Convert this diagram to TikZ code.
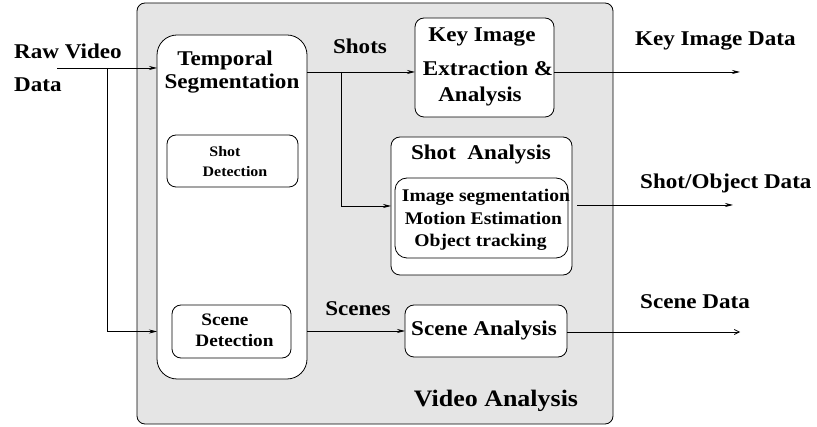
\documentclass[tikz,border=0pt]{standalone}
\usepackage{fontspec}
\setmainfont{Liberation Serif}[FakeStretch=1.1]
\usetikzlibrary{arrows.meta,calc}
\definecolor{panelgray}{RGB}{229,229,229}
\tikzset{
  box/.style={draw=black, line width=0.8pt, fill=white, inner sep=0pt, outer sep=0pt},
  lbl/.style={inner sep=0pt, text height=0.66em, text depth=0pt, font=\fontsize{21}{25}\selectfont\bfseries},
  lblsmall/.style={lbl, font=\fontsize{14.5}{17}\selectfont\bfseries},
  lblmid/.style={lbl, font=\fontsize{17.5}{20}\selectfont\bfseries},
  lblinner/.style={lbl, font=\fontsize{17.8}{20}\selectfont\bfseries},
  lblbig/.style={lbl, font=\fontsize{23.6}{27}\selectfont\bfseries},
  arr/.style={line width=0.7pt, -{Stealth[length=8pt,width=4pt]}},
  openarr/.style={line width=0.7pt, -{Straight Barb[length=5pt,width=5pt]}},
  wire/.style={line width=0.7pt}
}
\begin{document}
\begin{tikzpicture}[x=1pt,y=-1pt]
\useasboundingbox (0,0) rectangle (817,427);

% enclosing analysis panel
\node[box, fill=panelgray, rounded corners=8pt, minimum width=476pt, minimum height=421pt] (va) at (375,213.5) {};

% temporal segmentation column
\node[box, rounded corners=20pt, minimum width=150pt, minimum height=344pt] (ts) at (232,207) {};
\node[box, rounded corners=9pt, minimum width=131pt, minimum height=52pt] (sd) at (232.5,161) {};
\node[box, rounded corners=9pt, minimum width=119pt, minimum height=53pt] (scd) at (231.5,331.5) {};

% analysis blocks
\node[box, rounded corners=9pt, minimum width=139pt, minimum height=99pt] (ki) at (484.5,67.5) {};
\node[box, rounded corners=9pt, minimum width=181pt, minimum height=138pt] (sa) at (481.5,206) {};
\node[box, rounded corners=12pt, minimum width=173pt, minimum height=80pt] (sai) at (481.5,218) {};
\node[box, rounded corners=9pt, minimum width=162pt, minimum height=52pt] (sca) at (486,331) {};

% texts
\node[lbl, anchor=west] (rawA) at (14,55) {Raw Video};
\node[lbl, anchor=west] (rawB) at (14,88) {Data};
\node[lbl] (tsA) at (225,62) {Temporal};
\node[lbl] (tsB) at (232,85) {Segmentation};
\node[lblsmall] (sdA) at (225,153) {Shot};
\node[lblsmall] (sdB) at (235,173) {Detection};
\node[lblmid] (scdA) at (225,322) {Scene};
\node[lblmid] (scdB) at (234.5,343) {Detection};
\node[lbl] (shotsL) at (360,50) {Shots};
\node[lbl] (kiA) at (482,38) {Key Image};
\node[lbl] (kiB) at (488,72) {Extraction \&};
\node[lbl] (kiC) at (480,98) {Analysis};
\node[lbl, anchor=west] (kiOutL) at (635,42) {Key Image Data};
\node[lbl] (saT) at (481,156) {Shot\ \ Analysis};
\node[lblinner] (saA) at (486,198) {Image segmentation};
\node[lblinner] (saB) at (483.5,221) {Motion Estimation};
\node[lblinner] (saC) at (480.5,243) {Object tracking};
\node[lbl, anchor=west] (soOutL) at (640,185) {Shot/Object Data};
\node[lbl] (scenesL) at (358,312) {Scenes};
\node[lbl] (scaT) at (484,332) {Scene Analysis};
\node[lbl, anchor=west] (scOutL) at (640,305) {Scene Data};
\node[lblbig] (vaT) at (496,403) {Video Analysis};

% connector end points
\coordinate (rawIn) at (57,68);
\coordinate (rawBranch) at (107,68);
\coordinate (shotsOut) at (307,72);
\coordinate (shotsBranch) at (341,72);
\coordinate (kiOut) at (740,72);
\coordinate (soStart) at (577,205);
\coordinate (soOut) at (733,205);
\coordinate (scOut) at (740,332);

% connectors
\draw[arr] (rawIn) -- (rawIn -| ts.west);
\draw[arr] (rawBranch) |- (ts.west |- scd.west);
\draw[arr] (shotsOut) -- (shotsOut -| ki.west);
\draw[arr] (shotsBranch) |- (sa.west);
\draw[arr] (ki.east |- kiOut) -- (kiOut);
\draw[arr] (soStart) -- (soOut);
\draw[arr] (ts.east |- sca.west) -- (sca.west);
\draw[openarr] (sca.east |- scOut) -- (scOut);
\end{tikzpicture}
\end{document}
